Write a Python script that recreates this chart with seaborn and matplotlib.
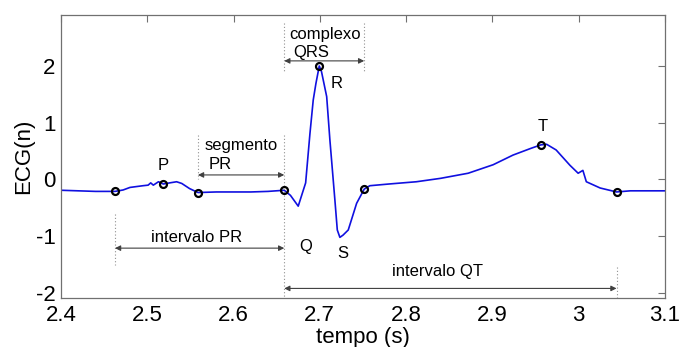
import matplotlib
matplotlib.use("Agg")
import matplotlib.pyplot as plt
import seaborn as sns
import pandas as pd

# ECG trace (time in s, amplitude)
t = [2.400, 2.420, 2.440, 2.4626, 2.472, 2.480, 2.495, 2.501, 2.504, 2.507, 2.513,
     2.5186, 2.526, 2.534, 2.540, 2.549, 2.5588, 2.580, 2.600, 2.620, 2.640, 2.6588,
     2.666, 2.675, 2.6836, 2.6886, 2.6924, 2.6955, 2.6994, 2.702, 2.708, 2.7117,
     2.7175, 2.7203, 2.7233, 2.727, 2.733, 2.7427, 2.7515, 2.758, 2.780, 2.812, 2.840,
     2.872, 2.901, 2.924, 2.945, 2.9563, 2.963, 2.974, 2.990, 2.9995, 3.005, 3.009,
     3.025, 3.044, 3.060, 3.100]
ecg = [-0.19, -0.20, -0.21, -0.21, -0.185, -0.14, -0.11, -0.10, -0.06, -0.10, -0.04,
       -0.08, -0.06, -0.04, -0.07, -0.16, -0.23, -0.22, -0.22, -0.22, -0.21, -0.19,
       -0.28, -0.47, -0.06, 0.81, 1.40, 1.69, 2.00, 1.90, 1.46, 0.70,
       -0.36, -0.89, -1.02, -0.98, -0.89, -0.42, -0.17, -0.11, -0.08, -0.04, 0.02,
       0.11, 0.26, 0.43, 0.55, 0.61, 0.62, 0.52, 0.25, 0.11, 0.16, -0.04,
       -0.15, -0.22, -0.20, -0.20]

# fiducial points
pt_t = [2.4626, 2.5186, 2.5588, 2.6588, 2.6994, 2.7515, 2.9563, 3.044]
pt_v = [-0.21, -0.08, -0.23, -0.19, 2.00, -0.17, 0.61, -0.22]

xticks = [2.4, 2.5, 2.6, 2.7, 2.8, 2.9, 3.0, 3.1]
xticklabels = ["2.4", "2.5", "2.6", "2.7", "2.8", "2.9", "3", "3.1"]
yticks = [-2, -1, 0, 1, 2]
yticklabels = ["-2", "-1", "0", "1", "2"]

sns.set_style("white")
plt.rcParams['font.family'] = ['Liberation Sans', 'DejaVu Sans']
plt.rcParams['text.color'] = 'black'
plt.rcParams['axes.labelcolor'] = 'black'
plt.rcParams['xtick.labelcolor'] = 'black'
plt.rcParams['ytick.labelcolor'] = 'black'
plt.rcParams['axes.unicode_minus'] = False

fig = plt.figure(figsize=(6.8, 3.47), dpi=100)
ax = fig.add_axes([0.0897, 0.141, 0.888, 0.816])

df = pd.DataFrame({"t": t, "ecg": ecg})
sns.lineplot(data=df, x="t", y="ecg", ax=ax, color="#1010e0", lw=1.2, sort=False)
ax.plot(pt_t, pt_v, 'o', ms=5, mfc='none', mec='black', mew=1.6, zorder=5)

ax.set_xlim(2.4, 3.1)
ax.set_ylim(-2.09, 2.9)
ax.set_xticks(xticks)
ax.set_xticklabels(xticklabels)
ax.set_yticks(yticks)
ax.set_yticklabels(yticklabels)
ax.tick_params(direction='in', length=5, width=0.8, color='#707070', labelsize=16,
               top=True, right=True)
ax.tick_params(axis='x', pad=5)
ax.tick_params(axis='y', pad=4)
for s in ax.spines.values():
    s.set_color('#707070')
    s.set_linewidth(0.9)
ax.set_xlabel("tempo (s)", fontsize=16, labelpad=1)
ax.set_ylabel("ECG(n)", fontsize=16, labelpad=1)

dot = dict(color='#909090', lw=0.8, ls=(0, (1, 2)))
ax.plot([2.4626, 2.4626], [-0.6, -1.5], **dot)
ax.plot([2.5588, 2.5588], [0.78, 0.0], **dot)
ax.plot([2.6588, 2.6588], [2.76, 1.88], **dot)
ax.plot([2.6588, 2.6588], [0.78, -2.09], **dot)
ax.plot([2.7515, 2.7515], [2.76, 1.88], **dot)
ax.plot([3.044, 3.044], [-1.54, -2.09], **dot)

ap = dict(arrowstyle='<|-|>', color='#404040', lw=0.8, mutation_scale=8, shrinkA=0, shrinkB=0)
ax.annotate("", xy=(2.7515, 2.09), xytext=(2.6588, 2.09), arrowprops=ap)
ax.annotate("", xy=(2.6588, 0.08), xytext=(2.5588, 0.08), arrowprops=ap)
ax.annotate("", xy=(2.6588, -1.21), xytext=(2.4626, -1.21), arrowprops=ap)
ax.annotate("", xy=(3.044, -1.92), xytext=(2.6588, -1.92), arrowprops=ap)

fs = 12
ax.text(2.706, 2.56, "complexo", fontsize=fs, ha='center', va='center')
ax.text(2.69, 2.23, "QRS", fontsize=fs, ha='center', va='center')
ax.text(2.609, 0.6, "segmento", fontsize=fs, ha='center', va='center')
ax.text(2.585, 0.27, "PR", fontsize=fs, ha='center', va='center')
ax.text(2.5186, 0.24, "P", fontsize=fs, ha='center', va='center')
ax.text(2.720, 1.7, "R", fontsize=fs, ha='center', va='center')
ax.text(2.6836, -1.18, "Q", fontsize=fs, ha='center', va='center')
ax.text(2.727, -1.3, "S", fontsize=fs, ha='center', va='center')
ax.text(2.958, 0.93, "T", fontsize=fs, ha='center', va='center')
ax.text(2.557, -1.02, "intervalo PR", fontsize=fs, ha='center', va='center')
ax.text(2.837, -1.62, "intervalo QT", fontsize=fs, ha='center', va='center')

fig.savefig("out.png", dpi=100)
